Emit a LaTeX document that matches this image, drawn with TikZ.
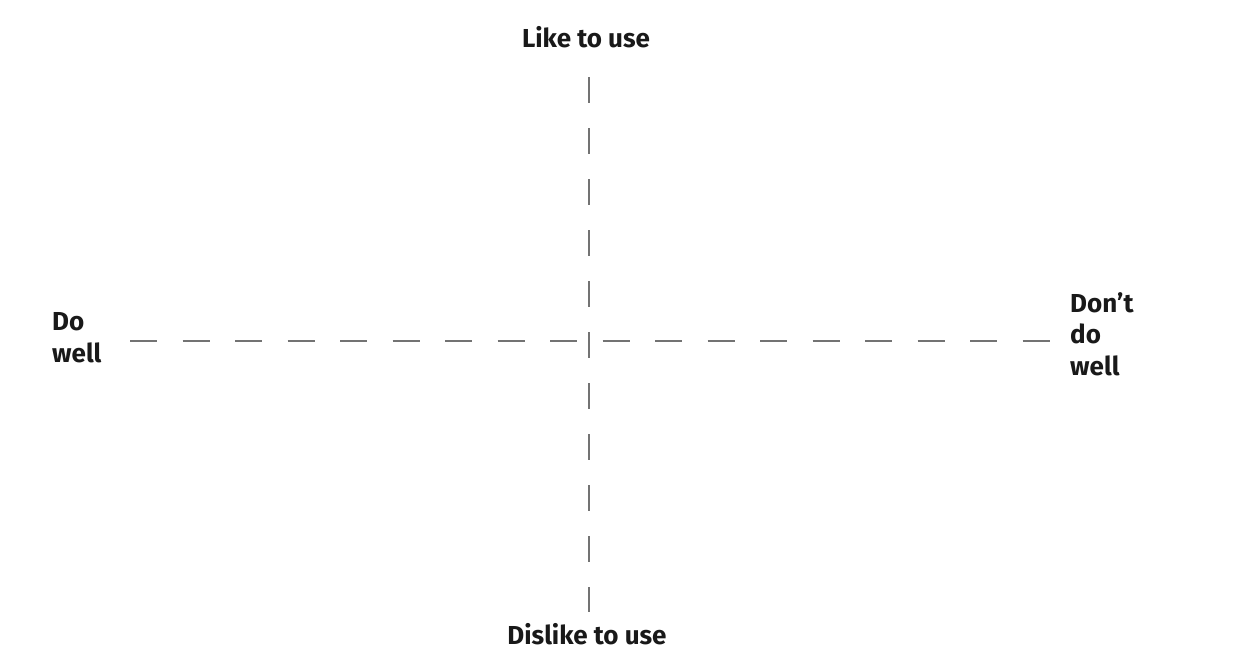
\documentclass[tikz,border=0pt]{standalone}
\usepackage{fontspec}
\setmainfont{Fira Sans}
\begin{document}
\begin{tikzpicture}[x=1pt,y=-1pt,
  axis/.style={draw=black!55, line width=2.2pt, dash pattern=on 27pt off 25.5pt},
  vaxis/.style={draw=black!55, line width=2.2pt, dash pattern=on 26pt off 25pt},
  lbl/.style={font=\fontsize{26}{31.5}\selectfont\bfseries, inner sep=0pt, text=black!90}]
\useasboundingbox[fill=white] (0,0) rectangle (1253,665);
\coordinate (top) at (589,77);
\coordinate (bot) at (589,612);
\coordinate (lft) at (130,341);
\coordinate (rgt) at (1050,341);
\draw[vaxis] (top) -- (bot);
\draw[axis] (lft) -- (rgt);
\node[lbl, anchor=base] (like) at (586,47) {Like to use};
\node[lbl, anchor=base] (dislike) at (587,644) {Dislike to use};
\node[lbl, anchor=base west, align=left] (dowell) at (52,362) {Do\\well};
\node[lbl, anchor=base west, align=left] (dontdowell) at (1070,375) {Don't\\do\\well};
\end{tikzpicture}
\end{document}
